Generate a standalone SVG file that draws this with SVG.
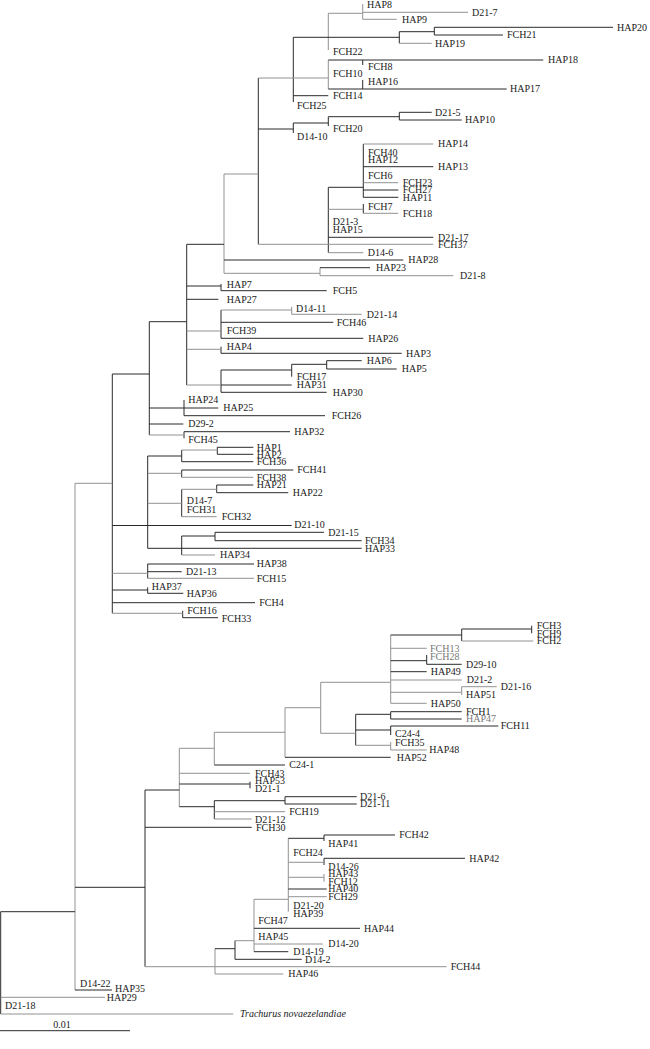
<svg xmlns="http://www.w3.org/2000/svg" width="650" height="1049" viewBox="0 0 650 1049">
<style>
text{font-family:"Liberation Serif","Times New Roman",serif;font-size:10px;fill:#1a1a1a}
.it{font-style:italic}
.lg{fill:#777}
.k{stroke:#2a2a2a;stroke-width:1;fill:none}
.g{stroke:#929292;stroke-width:1;fill:none}
</style>
<rect width="650" height="1049" fill="#fff"/>
<g id="connectors">
<path class="k" d="M434.3 27.3V35M399.3 31.7V43.3M362.7 60V65M362.7 80V89M293.3 37.3V102M399.3 112.3V120M328.3 116.7V126M293.3 123V133M258.3 78V244.3M363.3 144V197.3M363.3 204V213.3M328.3 187.3V252.7M221 284V290.7M221 310V338.3M221 346.7V353.3M326.7 360.7V369M291.7 364.3V376.7M221 370V392.3M186.7 244.3V385M184 400V415.7M184 431.7V438.3M149.3 321.7V435M217.3 447.3V454.3M181.7 450V461.7M181.7 470V477.3M216.7 485V492.7M181.7 489.3V516.7M215 532.3V540.7M181.7 536V555M147.7 456V548.3M147.7 564V578.3M147.7 587.3V593.3M182.7 610.7V617.7M112.3 374V613.3M0.7 911.7V1014"/>
<path class="k" d="M145 790V966.7M461.7 629V641M531.7 625.7V633.3M426.7 655V664.3M355.7 714.3V745.3M390.7 711.7V719M390.7 726V735M250 781.7V788.3M214.3 800.7V819M285 796.7V804M235 940.7V959.3M324 835V841M324 858.3V865"/>
<path class="g" d="M362.7 4V19.3M328.3 13.3V50M328.3 60V89M320 267.7V275.7M224 174V273.3M291.7 306.7V314.3M75 483.3V990M179.3 748.3V806.7M214.3 732.3V765M285 707.7V757.3M320.7 682.3V733.3M390.7 635V703.3M461.7 686.7V695M390.7 742V750M254 899.3V951.7M288.3 838.3V911.7M324 874V881.7M215 948.7V974"/>
<path class="k" d="M293.3 37.3H399.3M434.3 27.3H613M434.3 35H503M399.3 31.7H434.3M328.3 60H543.3M328.3 89H506.7M293.3 95.7H328.3M399.3 112.3H431.7M399.3 120H461.7M328.3 116.7H399.3M293.3 123H328.3M258.3 129H293.3M363.3 166.7H433.3M328.3 187.3H363.3M363.3 190H398.3M363.3 197.3H398.3M328.3 237.3H433.3M186.7 244.3H224M224 260H403.3M320 267.7H370M186.7 286H221M221 290.7H326.7M186.7 299.3H218.3M221 322.3H333.3M221 338.3H363.3M221 353.3H401.7M221 370H291.7M291.7 364.3H326.7M326.7 360.7H361.7M326.7 369H396.7M221 392.3H326.7M221 385H291.7M149.3 321.7H186.7M112.3 374H149.3M149.3 408H218.3M184 415.7H325M149.3 424H183.3M184 431.7H290M147.7 456H181.7M217.3 447.3H253.3M217.3 454.3H253.3M181.7 461.7H253.3M181.7 470H293.3M216.7 485H253.3M216.7 492.7H288.3M112.3 525.5H291.7M147.7 548.3H361.7M181.7 536H215M215 532.3H324M215 540.7H361.7M147.7 564H254M147.7 571.7H181.7M112.3 590H147.7M147.7 593.3H183.3M112.3 602.7H255M182.7 617.7H218"/>
<path class="k" d="M75 887.3H145M145 790H179.3M390.7 635H461.7M461.7 629H531.7M390.7 660.7H426.7M426.7 664.3H461.7M390.7 671.7H426.7M355.7 714.3H390.7M390.7 711.7H461.7M390.7 719H461.7M355.7 730H390.7M390.7 726H498.3M285 757.3H390.7M214.3 765H285M179.3 784H250M179.3 806.7H214.3M214.3 800.7H285M285 796.7H356.7M285 804H356.7M145 827.3H251.7M288.3 838.3H324M324 835H395M324 858.3H465M288.3 889H326.7M254 928.3H360M254 951.7H288.3M235 959.3H301.7M215 948.7H235M75 990H112M0 1030.7H130M0.7 911.7H75"/>
<path class="g" d="M362.7 12.3H468M362.7 19.3H396.7M328.3 13.3H362.7M399.3 43.3H431.7M258.3 78H328.3M363.3 144H433.3M363.3 182.7H398.3M328.3 209.3H363.3M363.3 213.3H398.3M258.3 244.3H433.3M328.3 252.7H363.3M224 174H258.3M224 273.3H320M320 275.7H453.3M186.7 331H221M221 310H291.7M291.7 314.3H361.7M186.7 349.3H221M186.7 385H221M149.3 435H184M75 483.3H112.3M181.7 450H217.3M147.7 473.3H181.7M181.7 477.3H253.3M147.7 503.3H181.7M181.7 489.3H216.7M181.7 516.7H216.7M181.7 555H215M112.3 573.3H147.7M147.7 578.3H254M112.3 613.3H182.7"/>
<path class="g" d="M179.3 748.3H214.3M214.3 732.3H285M285 707.7H320.7M320.7 682.3H390.7M461.7 641H533.3M390.7 648.3H426.7M390.7 680H461.7M390.7 692.3H461.7M461.7 686.7H496.7M390.7 703.3H426.7M320.7 733.3H355.7M355.7 745.3H390.7M390.7 750H426.7M179.3 773.3H250M214.3 811.7H285M214.3 819H251.7M254 899.3H288.3M288.3 862.3H324M288.3 877.3H324M288.3 896.7H326.7M254 944H322.7M235 940.7H254M145 966.7H446.7M215 974H283.3M0.7 997.3H105M0.7 1014H233.3"/>
</g>
<g id="n-HAP8"><text x="367" y="8.4">HAP8</text></g>
<g id="n-D21-7"><text x="472" y="15.7">D21-7</text></g>
<g id="n-HAP9"><text x="402" y="22.7">HAP9</text></g>
<g id="n-HAP20"><text x="617" y="30.7">HAP20</text></g>
<g id="n-FCH21"><text x="507" y="38.4">FCH21</text></g>
<g id="n-HAP19"><text x="435" y="46.7">HAP19</text></g>
<g id="n-FCH22"><text x="333" y="55.1">FCH22</text></g>
<g id="n-HAP18"><text x="548" y="63.4">HAP18</text></g>
<g id="n-FCH8"><text x="368" y="70.4">FCH8</text></g>
<g id="n-FCH10"><text x="333" y="77.4">FCH10</text></g>
<g id="n-HAP16"><text x="368" y="85.1">HAP16</text></g>
<g id="n-HAP17"><text x="510" y="92.4">HAP17</text></g>
<g id="n-FCH14"><text x="333" y="99.4">FCH14</text></g>
<g id="n-FCH25"><text x="297" y="109.4">FCH25</text></g>
<g id="n-D21-5"><text x="435" y="115.7">D21-5</text></g>
<g id="n-HAP10"><text x="465" y="123.4">HAP10</text></g>
<g id="n-FCH20"><text x="333" y="132.4">FCH20</text></g>
<g id="n-D14-10"><text x="297" y="140.4">D14-10</text></g>
<g id="n-HAP14"><text x="438" y="147.4">HAP14</text></g>
<g id="n-FCH40"><text x="368" y="155.7">FCH40</text></g>
<g id="n-HAP12"><text x="368" y="163.4">HAP12</text></g>
<g id="n-HAP13"><text x="438" y="170.1">HAP13</text></g>
<g id="n-FCH6"><text x="368" y="179.1">FCH6</text></g>
<g id="n-FCH23"><text x="402.7" y="186.1">FCH23</text></g>
<g id="n-FCH27"><text x="402.7" y="193.4">FCH27</text></g>
<g id="n-HAP11"><text x="402.7" y="200.7">HAP11</text></g>
<g id="n-FCH7"><text x="368" y="210.4">FCH7</text></g>
<g id="n-FCH18"><text x="402.7" y="216.7">FCH18</text></g>
<g id="n-D21-3"><text x="332.7" y="225.1">D21-3</text></g>
<g id="n-HAP15"><text x="332.7" y="232.7">HAP15</text></g>
<g id="n-D21-17"><text x="438" y="240.7">D21-17</text></g>
<g id="n-FCH37"><text x="438" y="248.4">FCH37</text></g>
<g id="n-D14-6"><text x="367.7" y="256.4">D14-6</text></g>
<g id="n-HAP28"><text x="408.3" y="263.4">HAP28</text></g>
<g id="n-HAP23"><text x="376" y="271.1">HAP23</text></g>
<g id="n-D21-8"><text x="460" y="279.4">D21-8</text></g>
<g id="n-HAP7"><text x="226.7" y="288.4">HAP7</text></g>
<g id="n-FCH5"><text x="332.7" y="294.4">FCH5</text></g>
<g id="n-HAP27"><text x="226.7" y="302.7">HAP27</text></g>
<g id="n-D14-11"><text x="296" y="311.7">D14-11</text></g>
<g id="n-D21-14"><text x="366.7" y="317.7">D21-14</text></g>
<g id="n-FCH46"><text x="336.7" y="325.7">FCH46</text></g>
<g id="n-FCH39"><text x="226.7" y="334.4">FCH39</text></g>
<g id="n-HAP26"><text x="368.3" y="341.7">HAP26</text></g>
<g id="n-HAP4"><text x="226.7" y="350.1">HAP4</text></g>
<g id="n-HAP3"><text x="406" y="356.7">HAP3</text></g>
<g id="n-HAP6"><text x="366.7" y="364.1">HAP6</text></g>
<g id="n-HAP5"><text x="401.7" y="372.4">HAP5</text></g>
<g id="n-FCH17"><text x="296.7" y="380.4">FCH17</text></g>
<g id="n-HAP31"><text x="296.7" y="387.7">HAP31</text></g>
<g id="n-HAP30"><text x="332.7" y="395.7">HAP30</text></g>
<g id="n-HAP24"><text x="188.3" y="403.4">HAP24</text></g>
<g id="n-HAP25"><text x="223.3" y="411.4">HAP25</text></g>
<g id="n-FCH26"><text x="331.7" y="419.1">FCH26</text></g>
<g id="n-D29-2"><text x="188.3" y="427.4">D29-2</text></g>
<g id="n-HAP32"><text x="294.3" y="435.1">HAP32</text></g>
<g id="n-FCH45"><text x="188.3" y="442.7">FCH45</text></g>
<g id="n-HAP1"><text x="256.7" y="450.7">HAP1</text></g>
<g id="n-HAP2"><text x="256.7" y="457.7">HAP2</text></g>
<g id="n-FCH36"><text x="256.7" y="465.1">FCH36</text></g>
<g id="n-FCH41"><text x="297.3" y="473.4">FCH41</text></g>
<g id="n-FCH38"><text x="256.7" y="480.7">FCH38</text></g>
<g id="n-HAP21"><text x="256.7" y="488.4">HAP21</text></g>
<g id="n-HAP22"><text x="292.7" y="496.1">HAP22</text></g>
<g id="n-D14-7"><text x="186.7" y="504.4">D14-7</text></g>
<g id="n-FCH31"><text x="186.7" y="512.7">FCH31</text></g>
<g id="n-FCH32"><text x="221.7" y="520.1">FCH32</text></g>
<g id="n-D21-10"><text x="294.3" y="528.4">D21-10</text></g>
<g id="n-D21-15"><text x="328.3" y="535.7">D21-15</text></g>
<g id="n-FCH34"><text x="365" y="544.1">FCH34</text></g>
<g id="n-HAP33"><text x="365" y="551.7">HAP33</text></g>
<g id="n-HAP34"><text x="220" y="558.4">HAP34</text></g>
<g id="n-HAP38"><text x="256.7" y="567.4">HAP38</text></g>
<g id="n-D21-13"><text x="186" y="575.1">D21-13</text></g>
<g id="n-FCH15"><text x="256.7" y="581.7">FCH15</text></g>
<g id="n-HAP37"><text x="151.7" y="590.1">HAP37</text></g>
<g id="n-HAP36"><text x="186.7" y="596.7">HAP36</text></g>
<g id="n-FCH4"><text x="259.3" y="606.1">FCH4</text></g>
<g id="n-FCH16"><text x="187.3" y="614.1">FCH16</text></g>
<g id="n-FCH33"><text x="221.7" y="622.4">FCH33</text></g>
<g id="n-FCH3"><text x="536.7" y="629.1">FCH3</text></g>
<g id="n-FCH9"><text x="536.7" y="636.7">FCH9</text></g>
<g id="n-FCH2"><text x="536.7" y="644.4">FCH2</text></g>
<g id="n-FCH13"><text class="lg" x="430" y="651.7">FCH13</text></g>
<g id="n-FCH28"><text class="lg" x="430" y="660.1">FCH28</text></g>
<g id="n-D29-10"><text x="466" y="667.7">D29-10</text></g>
<g id="n-HAP49"><text x="430.7" y="675.1">HAP49</text></g>
<g id="n-D21-2"><text x="466.7" y="683.4">D21-2</text></g>
<g id="n-D21-16"><text x="500.7" y="690.1">D21-16</text></g>
<g id="n-HAP51"><text x="466" y="698.4">HAP51</text></g>
<g id="n-HAP50"><text x="430.7" y="706.7">HAP50</text></g>
<g id="n-FCH1"><text x="466" y="715.1">FCH1</text></g>
<g id="n-HAP47"><text class="lg" x="466" y="722.4">HAP47</text></g>
<g id="n-FCH11"><text x="500.7" y="729.4">FCH11</text></g>
<g id="n-C24-4"><text x="395" y="736.7">C24-4</text></g>
<g id="n-FCH35"><text x="395" y="745.7">FCH35</text></g>
<g id="n-HAP48"><text x="429.3" y="753.4">HAP48</text></g>
<g id="n-HAP52"><text x="396.7" y="761.4">HAP52</text></g>
<g id="n-C24-1"><text x="289.3" y="768.4">C24-1</text></g>
<g id="n-FCH43"><text x="255" y="776.7">FCH43</text></g>
<g id="n-HAP53"><text x="255" y="784.4">HAP53</text></g>
<g id="n-D21-1"><text x="255" y="792.4">D21-1</text></g>
<g id="n-D21-6"><text x="360" y="800.1">D21-6</text></g>
<g id="n-D21-11"><text x="360" y="807.4">D21-11</text></g>
<g id="n-FCH19"><text x="289.3" y="815.1">FCH19</text></g>
<g id="n-D21-12"><text x="255" y="822.9">D21-12</text></g>
<g id="n-FCH30"><text x="256" y="830.7">FCH30</text></g>
<g id="n-FCH42"><text x="399.3" y="838.4">FCH42</text></g>
<g id="n-HAP41"><text x="328.3" y="847.4">HAP41</text></g>
<g id="n-FCH24"><text x="293.3" y="855.7">FCH24</text></g>
<g id="n-HAP42"><text x="469.3" y="861.7">HAP42</text></g>
<g id="n-D14-26"><text x="328.3" y="870.1">D14-26</text></g>
<g id="n-HAP43"><text x="328.3" y="877.4">HAP43</text></g>
<g id="n-FCH12"><text x="328.3" y="885.1">FCH12</text></g>
<g id="n-HAP40"><text x="328.3" y="892.4">HAP40</text></g>
<g id="n-FCH29"><text x="328.3" y="900.1">FCH29</text></g>
<g id="n-D21-20"><text x="293.3" y="909.1">D21-20</text></g>
<g id="n-HAP39"><text x="293.3" y="916.7">HAP39</text></g>
<g id="n-FCH47"><text x="258.3" y="924.1">FCH47</text></g>
<g id="n-HAP44"><text x="364" y="931.7">HAP44</text></g>
<g id="n-HAP45"><text x="258.3" y="940.1">HAP45</text></g>
<g id="n-D14-20"><text x="328.3" y="947.4">D14-20</text></g>
<g id="n-D14-19"><text x="293.3" y="955.1">D14-19</text></g>
<g id="n-D14-2"><text x="305" y="962.7">D14-2</text></g>
<g id="n-FCH44"><text x="450.7" y="970.1">FCH44</text></g>
<g id="n-HAP46"><text x="288.3" y="977.4">HAP46</text></g>
<g id="n-D14-22"><text x="80" y="986.7">D14-22</text></g>
<g id="n-HAP35"><text x="115" y="992.4">HAP35</text></g>
<g id="n-HAP29"><text x="106.7" y="1000.7">HAP29</text></g>
<g id="n-D21-18"><text x="5" y="1009.4">D21-18</text></g>
<g id="n-Trachurus"><text class="it" x="240" y="1017.4">Trachurus novaezelandiae</text></g>
<g id="scale"><text x="62" y="1028.4" text-anchor="middle">0.01</text></g>
</svg>
